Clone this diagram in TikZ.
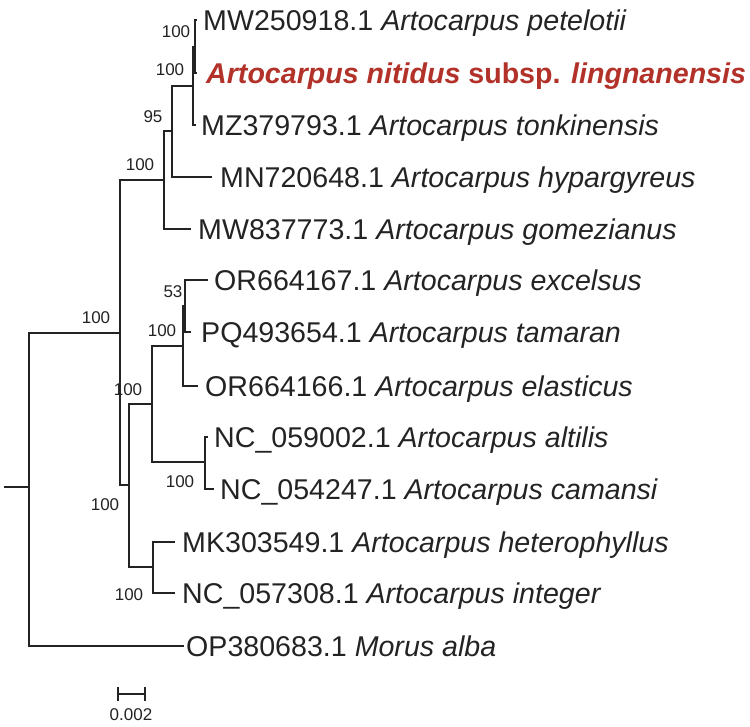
\documentclass[tikz,border=0pt]{standalone}
\usepackage{fontspec}
\setmainfont{Liberation Sans}
\definecolor{hl}{RGB}{178,50,42}
\definecolor{ink}{RGB}{35,35,35}
\begin{document}
\begin{tikzpicture}[x=1pt,y=-1pt,
  branch/.style={draw=ink, line width=1.6pt},
  leaf/.style={anchor=west, inner xsep=0pt, inner ysep=0pt, text height=20.5pt, text depth=0pt, font=\fontsize{28.6}{30}\selectfont, text=ink},
  boot/.style={inner sep=0pt, font=\fontsize{17}{18}\selectfont, text=ink}]
\useasboundingbox (0,0) rectangle (750,726);
% internal nodes
\coordinate (rootL) at (4,487);
\coordinate (Rt) at (29,487);
\coordinate (A) at (120,333);
\coordinate (U) at (164,180);
\coordinate (H) at (172,131);
\coordinate (T) at (193,86);
\coordinate (P) at (195,47);
\coordinate (L) at (129,485);
\coordinate (E) at (152,404);
\coordinate (X) at (183,346);
\coordinate (X2) at (185,306);
\coordinate (C) at (205,462);
\coordinate (M) at (153,567);
% branch ends
\coordinate (petEnd) at (197,20);
\coordinate (nitEnd) at (197,73);
\coordinate (tonEnd) at (196,125);
\coordinate (hypEnd) at (212,177);
\coordinate (gomEnd) at (191,229);
\coordinate (excEnd) at (208,280);
\coordinate (tamEnd) at (191,332);
\coordinate (elaEnd) at (198,386);
\coordinate (altEnd) at (208,437);
\coordinate (camEnd) at (214,489);
\coordinate (hetEnd) at (175,542);
\coordinate (intEnd) at (175,593);
\coordinate (morEnd) at (184,646);
% branches
\draw[branch] (rootL) -- (Rt);
\draw[branch] (Rt) |- (A);
\draw[branch] (Rt) |- (morEnd);
\draw[branch] (A) |- (U);
\draw[branch] (A) |- (L);
\draw[branch] (U) |- (H);
\draw[branch] (U) |- (gomEnd);
\draw[branch] (H) |- (T);
\draw[branch] (H) |- (hypEnd);
\draw[branch] (T) |- (P);
\draw[branch] (T) |- (tonEnd);
\draw[branch] (P) |- (petEnd);
\draw[branch] (P) |- (nitEnd);
\draw[branch] (L) |- (E);
\draw[branch] (L) |- (M);
\draw[branch] (E) |- (X);
\draw[branch] (E) |- (C);
\draw[branch] (X) |- (X2);
\draw[branch] (X) |- (elaEnd);
\draw[branch] (X2) |- (excEnd);
\draw[branch] (X2) |- (tamEnd);
\draw[branch] (C) |- (altEnd);
\draw[branch] (C) |- (camEnd);
\draw[branch] (M) |- (hetEnd);
\draw[branch] (M) |- (intEnd);
% leaf labels
\node[leaf] (lpet) at (203,20) {MW250918.1 \textit{Artocarpus petelotii}};
\node[leaf, text=hl] (lnit) at (206,73) {\textbf{\textit{Artocarpus nitidus} subsp. \textit{lingnanensis}}};
\node[leaf] (lton) at (201,125) {MZ379793.1 \textit{Artocarpus tonkinensis}};
\node[leaf] (lhyp) at (220,177) {MN720648.1 \textit{Artocarpus hypargyreus}};
\node[leaf] (lgom) at (198,229) {MW837773.1 \textit{Artocarpus gomezianus}};
\node[leaf] (lexc) at (214,280) {OR664167.1 \textit{Artocarpus excelsus}};
\node[leaf] (ltam) at (201,332) {PQ493654.1 \textit{Artocarpus tamaran}};
\node[leaf] (lela) at (205,386) {OR664166.1 \textit{Artocarpus elasticus}};
\node[leaf] (lalt) at (214,437) {NC\_059002.1 \textit{Artocarpus altilis}};
\node[leaf] (lcam) at (220,489) {NC\_054247.1 \textit{Artocarpus camansi}};
\node[leaf] (lhet) at (182,542) {MK303549.1 \textit{Artocarpus heterophyllus}};
\node[leaf] (lint) at (182,593) {NC\_057308.1 \textit{Artocarpus integer}};
\node[leaf] (lmor) at (186,646) {OP380683.1 \textit{Morus alba}};
% bootstrap values
\node[boot] (bP) at (176,32) {100};
\node[boot] (bT) at (170,70) {100};
\node[boot] (bH) at (153,117) {95};
\node[boot] (bU) at (140,165) {100};
\node[boot] (bA) at (96,318) {100};
\node[boot] (bX2) at (173,292) {53};
\node[boot] (bX) at (162,331) {100};
\node[boot] (bE) at (128,390) {100};
\node[boot] (bC) at (180,482) {100};
\node[boot] (bL) at (105,505) {100};
\node[boot] (bM) at (129,595) {100};
% scale bar
\coordinate (sbL) at (118,694);
\coordinate (sbR) at (145,694);
\coordinate (sbLt) at (118,687);
\coordinate (sbLb) at (118,701);
\coordinate (sbRt) at (145,687);
\coordinate (sbRb) at (145,701);
\draw[branch] (sbL) -- (sbR);
\draw[branch] (sbLt) -- (sbLb);
\draw[branch] (sbRt) -- (sbRb);
\node[boot] (sbLabel) at (131,715) {0.002};
\end{tikzpicture}
\end{document}
